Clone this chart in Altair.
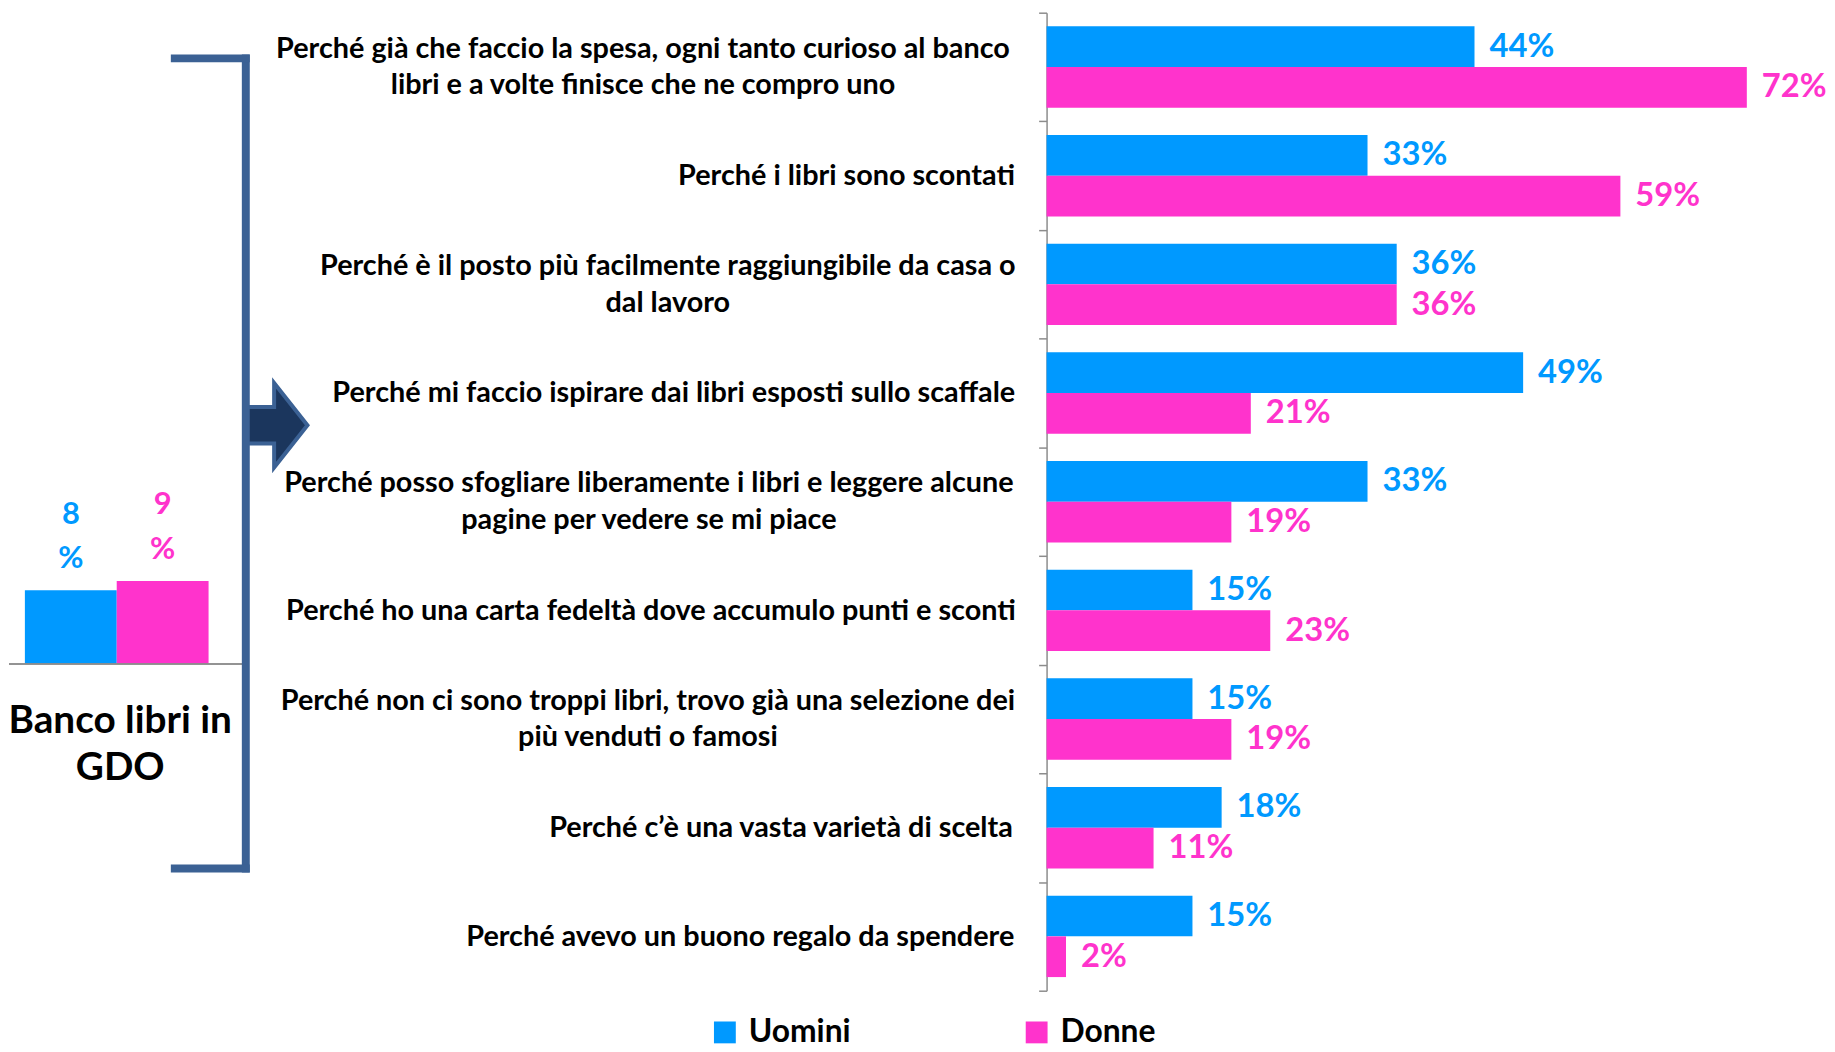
import json
import altair as alt
import pandas as pd

# ---------------- data ----------------
categories = [
    "Perché già che faccio la spesa, ogni tanto curioso al banco|libri e a volte finisce che ne compro uno",
    "Perché i libri sono scontati",
    "Perché è il posto più facilmente raggiungibile da casa o|dal lavoro",
    "Perché mi faccio ispirare dai libri esposti sullo scaffale",
    "Perché posso sfogliare liberamente i libri e leggere alcune|pagine per vedere se mi piace",
    "Perché ho una carta fedeltà dove accumulo punti e sconti",
    "Perché non ci sono troppi libri, trovo già una selezione dei|più venduti o famosi",
    "Perché c’è una vasta varietà di scelta",
    "Perché avevo un buono regalo da spendere",
]
genders = ["Uomini", "Donne"]
uomini = [44, 33, 36, 49, 33, 15, 15, 18, 15]
donne = [72, 59, 36, 21, 19, 23, 19, 11, 2]

gdo_values = [8, 9]
gdo_title = "Banco libri in\nGDO"

# ---------------- styles ----------------
colors = ["#0099FF", "#FF33CC"]
bracket_color = "#3B6194"
arrow_fill = "#1B365D"
axis_gray = "#8c8c8c"
FONT = "Lato"
# horizontal centre (page px) of each category label block
label_centers = [646, 851, 671, 677, 652, 654, 651, 785, 744]
LEFT_W = 1045
AXIS_X = LEFT_W + 8
TICK = 8
LINE_H = 37
LABEL_FS = 29

rows = []
for c, u, d in zip(categories, uomini, donne):
    rows.append({"cat": c, "gender": genders[0], "value": u})
    rows.append({"cat": c, "gender": genders[1], "value": d})
df = pd.DataFrame(rows)
df["label"] = df["value"].astype(int).astype(str) + "%"

gdo_df = pd.DataFrame({"gender": genders, "value": gdo_values})
gdo_df["label"] = gdo_df["value"].astype(str) + "\n%"

legend = alt.Legend(
    orient="none", legendX=705, legendY=1011, direction="horizontal", columns=2,
    title=None, symbolType="square", symbolSize=484, symbolStrokeWidth=0,
    labelFont=FONT, labelFontWeight="bold", labelFontSize=32, labelColor="#000000",
    labelOffset=8, columnPadding=171, padding=0, labelLimit=400,
)
color = alt.Color("gender:N", scale=alt.Scale(domain=genders, range=colors), legend=legend)

# ---------------- main chart ----------------
def is_cat(c):
    return f"datum.value === {json.dumps(c, ensure_ascii=False)}"

pad_cond = [{"test": is_cat(c), "value": AXIS_X - TICK - cx}
            for c, cx in zip(categories, label_centers)]
two_line_test = " || ".join(is_cat(c) for c in categories if "|" in c)

y_axis = alt.Axis(
    domainColor=axis_gray, domainWidth=1.5, tickColor=axis_gray, tickWidth=1.5,
    tickSize=TICK, tickBand="extent", labelAlign="center",
    labelBaseline={"condition": {"test": two_line_test, "value": "line-bottom"},
                   "value": "middle"},
    labelFont=FONT, labelFontWeight="bold", labelColor="#000000",
    # the extra (empty) boundary tick label gets no size, so it adds no bounds
    labelFontSize={"condition": {"test": "!datum.label", "value": 0}, "value": LABEL_FS},
    labelLineHeight=LINE_H, labelLimit=2000,
    labelPadding={"condition": pad_cond, "value": 300},
    labelExpr="datum.label ? split(datum.label, '|') : ''",
)
y = alt.Y("cat:N", sort=categories, title=None,
          scale=alt.Scale(paddingInner=0, paddingOuter=0), axis=y_axis)
yoff = alt.YOffset("gender:N", sort=genders,
                   scale=alt.Scale(paddingInner=0, paddingOuter=0.335))
x = alt.X("value:Q", scale=alt.Scale(domain=[0, 78.1]), axis=None)

bars = alt.Chart(df).mark_bar().encode(y=y, yOffset=yoff, x=x, color=color)
vals = alt.Chart(df).mark_text(
    align="left", baseline="middle", dx=15, font=FONT, fontWeight="bold", fontSize=33
).encode(y=y, yOffset=yoff, x=x, text="label:N", color=color)
main = alt.layer(bars, vals).properties(width=765, height=985)

# ---------------- left panel ----------------
lx = alt.X("gender:N", sort=genders, axis=None,
           scale=alt.Scale(range=[16, 201], paddingInner=0, paddingOuter=0))
ly = alt.Y("value:Q", axis=None,
           scale=alt.Scale(domain=[0, 10], range=[656, 563]))

gdo_bars = alt.Chart(gdo_df).mark_bar().encode(x=lx, y=ly, color=color)
gdo_text = alt.Chart(gdo_df).mark_text(
    lineBreak="\n", baseline="alphabetic", dy=-67, font=FONT, fontWeight="bold",
    fontSize=31, lineHeight=45
).encode(x=lx, y=ly, text="label:N", color=color)
baseline = alt.Chart(gdo_df).mark_rule(color=axis_gray, strokeWidth=1.5).encode(
    y=alt.datum(0), x=alt.value(0), x2=alt.value(239))

title_df = pd.DataFrame({"t": [gdo_title]})
gdo_title_mark = alt.Chart(title_df).mark_text(
    lineBreak="\n", align="center", baseline="alphabetic", font=FONT, fontWeight="bold",
    fontSize=39, lineHeight=48, color="#000000"
).encode(text="t:N", x=alt.value(112), y=alt.value(725))

arrow_path = "M -0.72 -0.43 L -0.07 -0.43 L -0.07 -1 L 0.72 0 L -0.07 1 L -0.07 0.43 L -0.72 0.43 Z"
arrow = alt.Chart(title_df).mark_point(
    shape=arrow_path, size=7225, filled=True, fill=arrow_fill, stroke=bracket_color,
    strokeWidth=4, opacity=1
).encode(x=alt.value(270), y=alt.value(415.5))

vrule = alt.Chart(title_df).mark_rule(color=bracket_color, strokeWidth=8).encode(
    x=alt.value(238.5), y=alt.value(42), y2=alt.value(866))
top_arm = alt.Chart(title_df).mark_rule(color=bracket_color, strokeWidth=8).encode(
    x=alt.value(163), x2=alt.value(242.5), y=alt.value(46))
bot_arm = alt.Chart(title_df).mark_rule(color=bracket_color, strokeWidth=8).encode(
    x=alt.value(163), x2=alt.value(242.5), y=alt.value(862))

left = alt.layer(
    gdo_bars, gdo_text, baseline, gdo_title_mark, arrow, vrule, top_arm, bot_arm
).properties(width=LEFT_W, height=985)

chart = alt.hconcat(left, main, spacing=0, bounds="flush").properties(
    padding={"left": 0, "top": 0, "right": 0, "bottom": 0}
).configure(font=FONT).configure_view(strokeWidth=0)

chart.save("out.html", embed_options={"renderer": "svg", "actions": False})
